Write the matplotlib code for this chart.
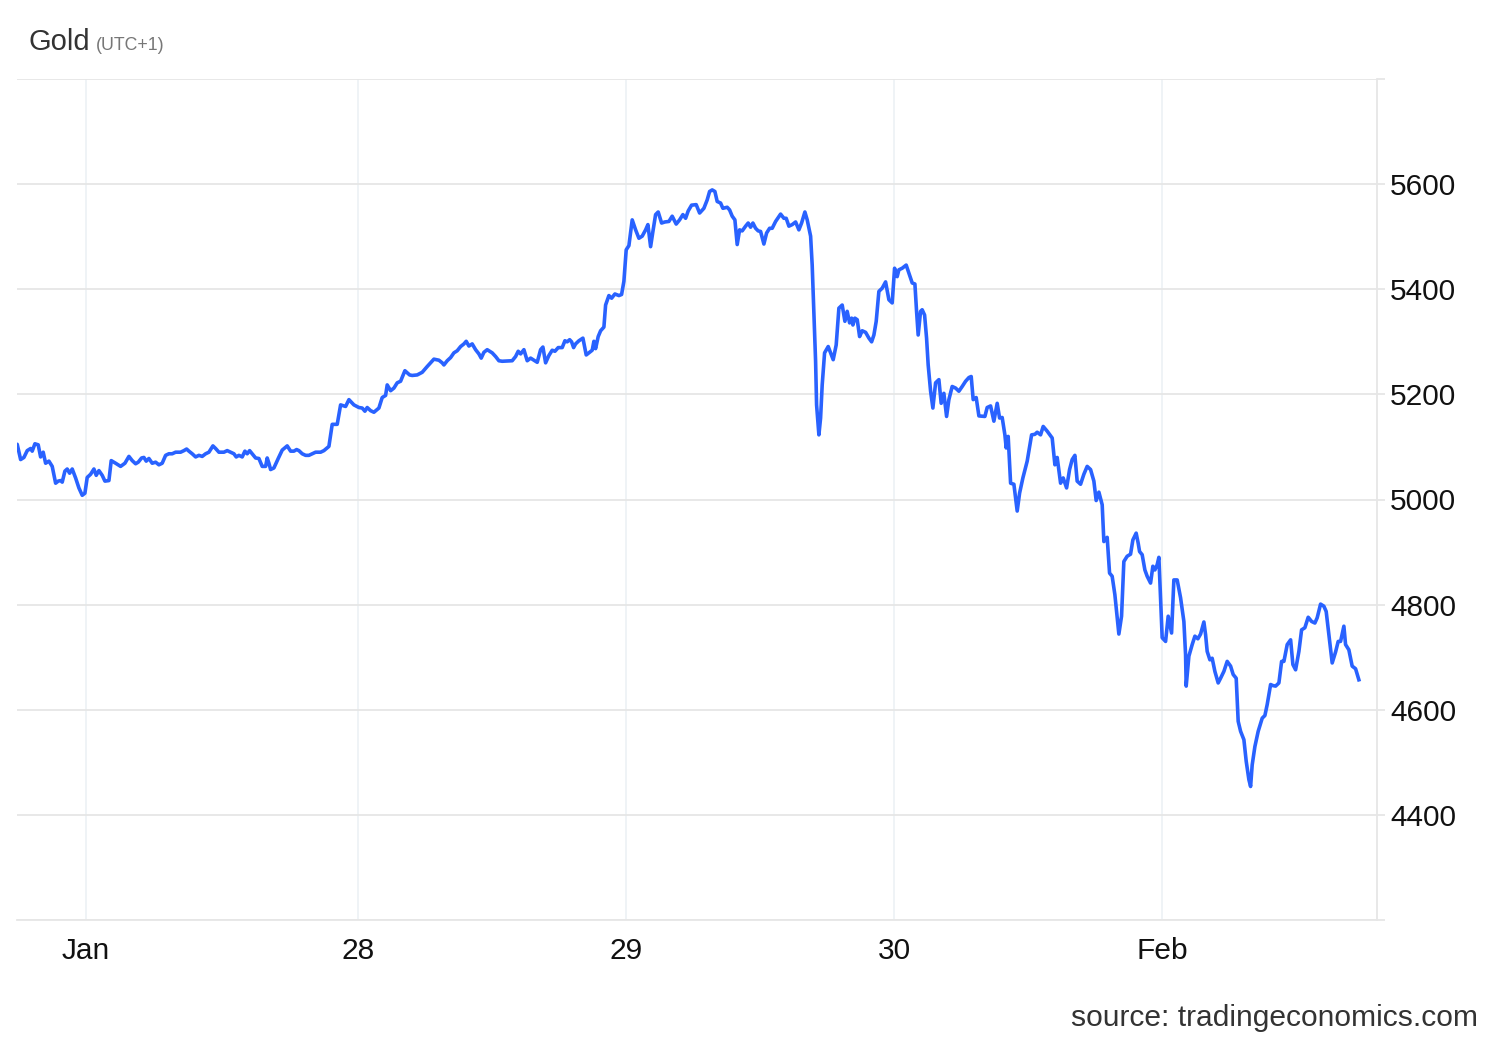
import matplotlib
matplotlib.use("Agg")
import matplotlib.pyplot as plt

plt.rcParams['font.family'] = ['Liberation Sans', 'DejaVu Sans']

# time in trading days after the "Jan" tick (Jan 27), price in USD
t_days = [
    -0.2752, -0.2692, -0.2565, -0.2442, -0.2319, -0.2192, -0.2133, -0.2032, -0.1909, -0.1820,
    -0.1723, -0.1633, -0.1510, -0.1387, -0.1260, -0.1163, -0.1074, -0.1014, -0.0914, -0.0828,
    -0.0738, -0.0641, -0.0515, -0.0392, -0.0268, -0.0168, -0.0082, 0.0045, 0.0168, 0.0254,
    0.0354, 0.0477, 0.0578, 0.0727, 0.0813, 0.0977, 0.1163, 0.1324, 0.1473, 0.1596,
    0.1723, 0.1820, 0.1946, 0.2032, 0.2118, 0.2218, 0.2342, 0.2468, 0.2591, 0.2714,
    0.2841, 0.2964, 0.3087, 0.3214, 0.3400, 0.3524, 0.3624, 0.3710, 0.3833, 0.3960,
    0.4083, 0.4206, 0.4333, 0.4456, 0.4605, 0.4706, 0.4829, 0.5015, 0.5138, 0.5265,
    0.5388, 0.5474, 0.5574, 0.5697, 0.5798, 0.5884, 0.5973, 0.6070, 0.6197, 0.6320,
    0.6443, 0.6570, 0.6629, 0.6693, 0.6756, 0.6879, 0.7040, 0.7189, 0.7375, 0.7502,
    0.7625, 0.7726, 0.7811, 0.7935, 0.8061, 0.8184, 0.8307, 0.8434, 0.8621, 0.8744,
    0.8930, 0.9053, 0.9240, 0.9366, 0.9553, 0.9676, 0.9862, 1.0048, 1.0172, 1.0272,
    1.0358, 1.0485, 1.0608, 1.0794, 1.0917, 1.1044, 1.1104, 1.1231, 1.1354, 1.1477,
    1.1603, 1.1764, 1.1939, 1.2036, 1.2222, 1.2409, 1.2595, 1.2845, 1.3032, 1.3155,
    1.3218, 1.3341, 1.3468, 1.3591, 1.3714, 1.3841, 1.3964, 1.4049, 1.4150, 1.4273,
    1.4400, 1.4523, 1.4609, 1.4709, 1.4832, 1.5019, 1.5146, 1.5268, 1.5391, 1.5764,
    1.5891, 1.5988, 1.6078, 1.6201, 1.6324, 1.6451, 1.6574, 1.6697, 1.6823, 1.6909,
    1.7010, 1.7133, 1.7256, 1.7357, 1.7480, 1.7629, 1.7730, 1.7815, 1.7905, 1.7979,
    1.8054, 1.8128, 1.8252, 1.8401, 1.8524, 1.8651, 1.8748, 1.8811, 1.8874, 1.8971,
    1.9061, 1.9184, 1.9247, 1.9370, 1.9471, 1.9594, 1.9743, 1.9843, 1.9929, 2.0015,
    2.0116, 2.0239, 2.0366, 2.0489, 2.0612, 2.0739, 2.0824, 2.0925, 2.1011, 2.1111,
    2.1208, 2.1335, 2.1458, 2.1607, 2.1730, 2.1879, 2.2006, 2.2129, 2.2230, 2.2327,
    2.2453, 2.2625, 2.2752, 2.2912, 2.3035, 2.3125, 2.3222, 2.3322, 2.3408, 2.3535,
    2.3620, 2.3781, 2.3870, 2.3967, 2.4068, 2.4154, 2.4243, 2.4340, 2.4467, 2.4564,
    2.4653, 2.4739, 2.4840, 2.4937, 2.5026, 2.5149, 2.5250, 2.5362, 2.5459, 2.5586,
    2.5772, 2.5895, 2.5981, 2.6082, 2.6205, 2.6332, 2.6454, 2.6555, 2.6678, 2.6764,
    2.6891, 2.6950, 2.7013, 2.7077, 2.7114, 2.7200, 2.7263, 2.7323, 2.7412, 2.7547,
    2.7636, 2.7733, 2.7845, 2.7946, 2.8069, 2.8170, 2.8255, 2.8345, 2.8420, 2.8468,
    2.8543, 2.8629, 2.8718, 2.8815, 2.8942, 2.9065, 2.9166, 2.9251, 2.9337, 2.9437,
    2.9560, 2.9687, 2.9810, 2.9933, 3.0022, 3.0119, 3.0183, 3.0306, 3.0455, 3.0582,
    3.0679, 3.0780, 3.0842, 3.0902, 3.0991, 3.1051, 3.1141, 3.1215, 3.1275, 3.1365,
    3.1450, 3.1551, 3.1674, 3.1760, 3.1860, 3.1961, 3.2047, 3.2170, 3.2297, 3.2420,
    3.2543, 3.2670, 3.2793, 3.2879, 3.2953, 3.3065, 3.3166, 3.3390, 3.3475, 3.3602,
    3.3725, 3.3848, 3.3937, 3.4034, 3.4135, 3.4184, 3.4258, 3.4348, 3.4471, 3.4594,
    3.4683, 3.4806, 3.4967, 3.5131, 3.5254, 3.5339, 3.5466, 3.5563, 3.5712, 3.5899,
    3.6000, 3.6085, 3.6212, 3.6309, 3.6436, 3.6547, 3.6644, 3.6745, 3.6830, 3.6957,
    3.7080, 3.7203, 3.7330, 3.7453, 3.7539, 3.7640, 3.7763, 3.7826, 3.7949, 3.8038,
    3.8135, 3.8236, 3.8299, 3.8385, 3.8485, 3.8571, 3.8694, 3.8821, 3.8907, 3.9030,
    3.9105, 3.9157, 3.9254, 3.9355, 3.9440, 3.9567, 3.9653, 3.9728, 3.9814, 3.9877,
    3.9940, 4.0000, 4.0127, 4.0224, 4.0350, 4.0436, 4.0559, 4.0686, 4.0809, 4.0872,
    4.0895, 4.0996, 4.1119, 4.1220, 4.1331, 4.1432, 4.1555, 4.1618, 4.1678, 4.1779,
    4.1864, 4.1965, 4.2088, 4.2178, 4.2301, 4.2424, 4.2551, 4.2648, 4.2760, 4.2834,
    4.2924, 4.3047, 4.3133, 4.3233, 4.3297, 4.3356, 4.3457, 4.3580, 4.3730, 4.3830,
    4.3916, 4.4043, 4.4129, 4.4229, 4.4352, 4.4453, 4.4539, 4.4662, 4.4789, 4.4874,
    4.4975, 4.5098, 4.5198, 4.5321, 4.5444, 4.5571, 4.5694, 4.5780, 4.5906, 4.6029,
    4.6115, 4.6216, 4.6339, 4.6466, 4.6563, 4.6652, 4.6775, 4.6838, 4.6961, 4.7084,
    4.7211, 4.7334,
]

price = [
    5095, 5105, 5076, 5080, 5093, 5097, 5092, 5106, 5104, 5081,
    5090, 5069, 5073, 5063, 5031, 5035, 5036, 5033, 5054, 5058,
    5050, 5058, 5041, 5022, 5008, 5012, 5042, 5048, 5058, 5046,
    5055, 5046, 5035, 5036, 5074, 5069, 5063, 5069, 5082, 5074,
    5068, 5071, 5079, 5080, 5073, 5078, 5069, 5071, 5066, 5069,
    5084, 5087, 5087, 5090, 5090, 5093, 5096, 5092, 5087, 5081,
    5084, 5082, 5087, 5090, 5102, 5097, 5090, 5090, 5093, 5090,
    5087, 5081, 5084, 5081, 5092, 5087, 5093, 5087, 5079, 5078,
    5063, 5063, 5079, 5069, 5057, 5060, 5078, 5094, 5102, 5092,
    5092, 5095, 5093, 5087, 5084, 5084, 5087, 5090, 5090, 5093,
    5101, 5143, 5143, 5180, 5177, 5190, 5180, 5175, 5174, 5168,
    5175, 5169, 5166, 5174, 5194, 5198, 5218, 5207, 5212, 5222,
    5225, 5245, 5237, 5236, 5237, 5242, 5253, 5267, 5265, 5260,
    5256, 5264, 5270, 5279, 5283, 5291, 5296, 5301, 5292, 5296,
    5285, 5277, 5269, 5280, 5285, 5279, 5272, 5264, 5263, 5264,
    5272, 5282, 5277, 5285, 5264, 5269, 5265, 5261, 5285, 5290,
    5260, 5274, 5284, 5282, 5289, 5289, 5302, 5300, 5304, 5300,
    5289, 5296, 5302, 5307, 5275, 5280, 5284, 5301, 5287, 5310,
    5321, 5328, 5370, 5388, 5383, 5391, 5388, 5390, 5415, 5475,
    5483, 5532, 5513, 5497, 5501, 5513, 5523, 5481, 5510, 5542,
    5547, 5526, 5528, 5529, 5539, 5524, 5532, 5542, 5535, 5549,
    5560, 5561, 5545, 5554, 5570, 5586, 5589, 5586, 5567, 5564,
    5554, 5556, 5551, 5539, 5532, 5485, 5513, 5511, 5520, 5526,
    5518, 5526, 5516, 5511, 5510, 5486, 5507, 5516, 5516, 5529,
    5543, 5535, 5535, 5520, 5523, 5528, 5513, 5526, 5547, 5532,
    5501, 5446, 5358, 5263, 5180, 5123, 5155, 5218, 5279, 5291,
    5279, 5266, 5294, 5364, 5370, 5339, 5358, 5336, 5345, 5332,
    5345, 5342, 5310, 5321, 5318, 5307, 5300, 5313, 5339, 5396,
    5402, 5414, 5380, 5374, 5440, 5424, 5437, 5440, 5446, 5427,
    5412, 5410, 5358, 5313, 5358, 5361, 5351, 5307, 5256, 5206,
    5174, 5222, 5228, 5183, 5202, 5158, 5190, 5215, 5212, 5206,
    5215, 5225, 5232, 5234, 5190, 5194, 5159, 5158, 5175, 5178,
    5149, 5183, 5155, 5156, 5123, 5098, 5120, 5031, 5029, 4978,
    5012, 5041, 5073, 5123, 5124, 5128, 5123, 5139, 5130, 5117,
    5066, 5080, 5031, 5041, 5022, 5057, 5076, 5084, 5035, 5029,
    5048, 5063, 5057, 5035, 4998, 5014, 4990, 4920, 4928, 4860,
    4854, 4819, 4787, 4744, 4778, 4882, 4892, 4896, 4923, 4936,
    4917, 4901, 4895, 4866, 4854, 4841, 4873, 4866, 4876, 4890,
    4813, 4737, 4730, 4778, 4746, 4847, 4847, 4813, 4768, 4705,
    4645, 4702, 4724, 4740, 4735, 4744, 4767, 4743, 4711, 4695,
    4698, 4673, 4651, 4660, 4673, 4692, 4683, 4667, 4660, 4578,
    4559, 4543, 4502, 4467, 4454, 4495, 4530, 4559, 4584, 4589,
    4610, 4648, 4646, 4645, 4651, 4692, 4692, 4724, 4733, 4686,
    4676, 4711, 4752, 4756, 4776, 4768, 4765, 4775, 4801, 4797,
    4787, 4743, 4689, 4710, 4730, 4730, 4759, 4724, 4714, 4683,
    4678, 4657,
]

x_ticks = [-0.012, 1.0, 2.0, 3.0, 4.0]
x_labels = ['Jan', '28', '29', '30', 'Feb']
y_ticks = [4200, 4400, 4600, 4800, 5000, 5200, 5400, 5600, 5800]
y_labels = ['', '4400', '4600', '4800', '5000', '5200', '5400', '5600', '']

fig = plt.figure(figsize=(15, 10.4), dpi=100)
ax = fig.add_axes([17 / 1500, 1 - 920 / 1040, 1360 / 1500, 841 / 1040])

ax.plot(t_days, price, color='#2962ff', linewidth=2.6, solid_joinstyle='round', zorder=3)

ax.set_xlim(-0.270, 4.801)
ax.set_ylim(4200, 5800)

ax.set_xticks(x_ticks)
ax.set_xticklabels(x_labels)
ax.set_yticks(y_ticks)
ax.set_yticklabels(y_labels)

ax.yaxis.tick_right()
ax.tick_params(axis='y', length=6, width=1.3, color='#e6e6e6', pad=3.5,
               labelsize=21.5, labelcolor='#111111')
ax.tick_params(axis='x', length=0, pad=12.5, labelsize=21.5, labelcolor='#111111')

ax.grid(axis='y', color='#e6e6e6', linewidth=1.3)
ax.grid(axis='x', color='#eef2f6', linewidth=1.3)
ax.set_axisbelow(True)

for side in ['top', 'left']:
    ax.spines[side].set_visible(False)
ax.spines['bottom'].set_color('#e6e6e6')
ax.spines['bottom'].set_linewidth(1.3)
ax.spines['right'].set_color('#e6e6e6')
ax.spines['right'].set_linewidth(1.3)

fig.text(29 / 1500, 1 - 50 / 1040, 'Gold', fontsize=21, color='#333333', va='baseline')
fig.text(96 / 1500, 1 - 50 / 1040, '(UTC+1)', fontsize=12.8, color='#777777', va='baseline')
fig.text(1478 / 1500, 1 - 1026 / 1040, 'source: tradingeconomics.com', fontsize=21.6,
         color='#333333', ha='right', va='baseline')

fig.savefig('out.png', dpi=100, facecolor='white')
